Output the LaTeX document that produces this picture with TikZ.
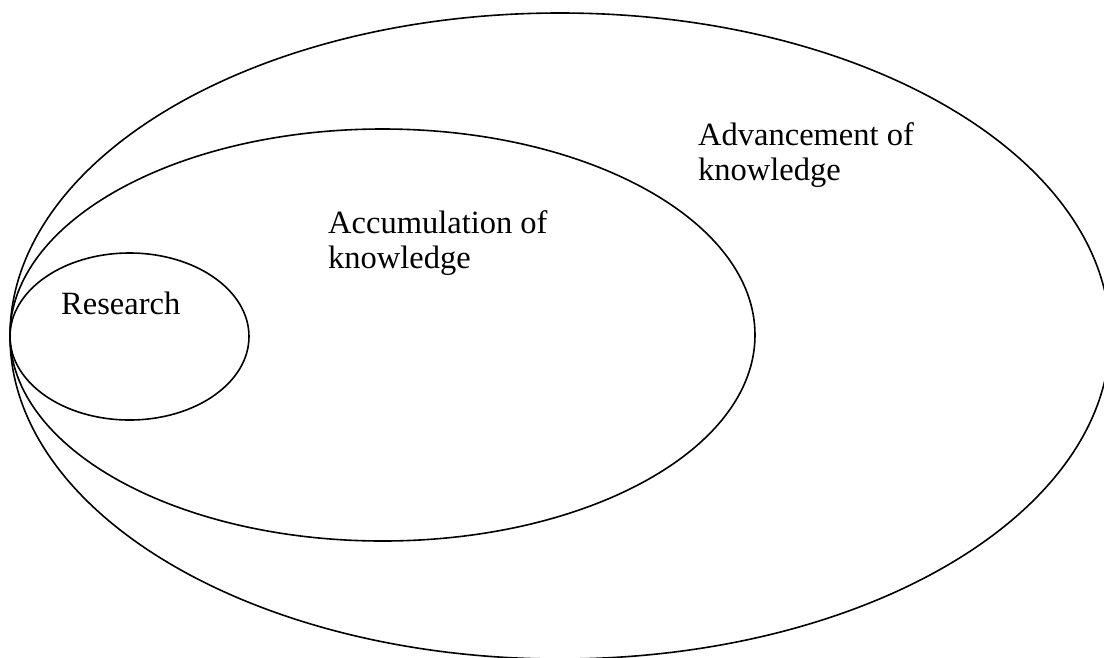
\documentclass[tikz,border=0pt]{standalone}
\usepackage{fontspec}
\setmainfont{Liberation Serif}
\usetikzlibrary{shapes,positioning}
\tikzstyle{ring} = [ellipse, draw, line width=1.6pt, inner sep=0pt]
\tikzstyle{txt} = [anchor=base west, inner sep=0pt, align=left, font=\fontsize{32.5}{35}\selectfont]

\begin{document}
\begin{tikzpicture}[x=1pt, y=-1pt]
        \useasboundingbox (0, 0) rectangle (1104, 657);

        \node[ring, minimum width=1100pt, minimum height=646pt] (advancement) at (560, 336) {};
        \node[ring, minimum width=745pt, minimum height=412pt] (accumulation) at (382.5, 335) {};
        \node[ring, minimum width=239pt, minimum height=167pt] (research) at (129.5, 336.5) {};

        % base anchor sits on the last line
        \node[txt] (advtext) at (698, 180) {Advancement of\\knowledge};
        \node[txt] (acctext) at (328, 268) {Accumulation of\\knowledge};
        \node[txt] (restext) at (61, 314) {Research};

    \end{tikzpicture}
\end{document}
